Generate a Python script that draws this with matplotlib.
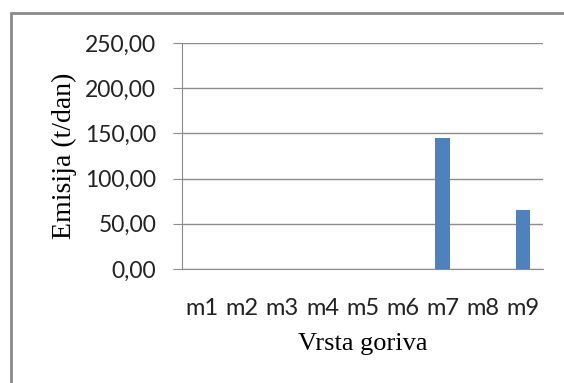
import matplotlib
matplotlib.use("Agg")
import matplotlib.pyplot as plt
from matplotlib.patches import Rectangle

# Podaci
kategorije = ["m1", "m2", "m3", "m4", "m5", "m6", "m7", "m8", "m9"]
emisija = [0, 0, 0, 0, 0, 0, 145, 0, 65]
y_ticks = [0, 50, 100, 150, 200, 250]

fig = plt.figure(figsize=(5.64, 3.83), dpi=100)
ax = fig.add_axes([0.3227, 0.2976, 0.6401, 0.5901])

# okvir oko grafikona
fig.patches.append(Rectangle((11 / 564, -0.1), 1.2, 1 - 13 / 383 + 0.1,
                             transform=fig.transFigure, fill=False,
                             edgecolor="#8a8a8a", linewidth=2))

x = range(len(kategorije))
ax.bar(x, emisija, width=0.37, color="#4F81BD", zorder=3)

ax.set_xlim(-0.5, len(kategorije) - 0.5)
ax.set_ylim(0, 250)
ax.set_yticks(y_ticks)
ax.set_yticklabels([f"{v:.2f}".replace(".", ",") for v in y_ticks],
                   fontfamily="Lato", fontsize=16.5, color="#222222")
ax.set_xticks(list(x))
ax.set_xticklabels(kategorije, fontfamily="Lato", fontsize=17, color="#222222")

ax.yaxis.grid(True, color="#8c8c8c", linewidth=1, zorder=0)
for s in ["top", "right"]:
    ax.spines[s].set_visible(False)
ax.spines["left"].set_color("#8c8c8c")
ax.spines["bottom"].set_color("#8c8c8c")
ax.tick_params(axis="y", length=6.5, color="#8c8c8c", pad=12)
ax.tick_params(axis="x", length=0, pad=21)

ax.set_ylabel("Emisija (t/dan)", fontfamily="Liberation Serif", fontsize=20,
              labelpad=6)
ax.set_xlabel("Vrsta goriva", fontfamily="Liberation Serif", fontsize=19,
              labelpad=10)

fig.savefig("out.png", dpi=100)
